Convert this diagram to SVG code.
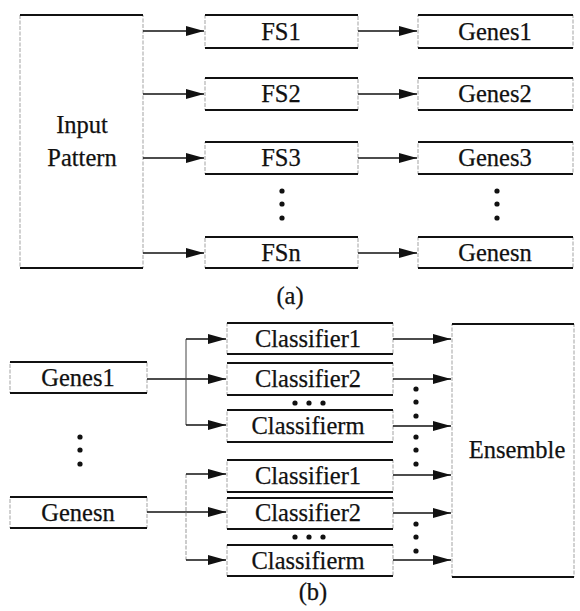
<svg xmlns="http://www.w3.org/2000/svg" width="580" height="611" viewBox="0 0 580 611" font-family="Liberation Serif, DejaVu Serif, serif">
  <style>
    .side { fill: none; stroke: #999; stroke-width: 0.9; stroke-dasharray: 4 1.5; }
    .edge { stroke: #111; stroke-width: 1.8; }
    text { font-family: "Liberation Serif", "DejaVu Serif", serif; font-size: 24.5px; fill: #111; stroke: #111; stroke-width: 0.25; text-anchor: middle; }
    .wire { fill: none; stroke: #111; stroke-width: 1.4; }
    .bus { fill: none; stroke: #444; stroke-width: 1; }
    .faint { fill: none; stroke: #999; stroke-width: 1; stroke-dasharray: 4 1.5; }
    .dot { fill: #111; }
  </style>
  <defs>
    <marker id="arrow" viewBox="0 0 18 10" refX="18" refY="5" markerWidth="18" markerHeight="10" markerUnits="userSpaceOnUse" orient="auto">
      <path d="M0,0 L18,5 L0,10 z" fill="#111"/>
    </marker>
    <!-- three stacked dots -->
    <symbol id="dots-v" overflow="visible">
      <circle cx="0" cy="0" r="2.6" class="dot"/>
      <circle cx="0" cy="13" r="2.6" class="dot"/>
      <circle cx="0" cy="27" r="2.6" class="dot"/>
    </symbol>
  </defs>
  <rect width="580" height="611" fill="#fff"/>

  <!-- (a) feature selection -->
  <g id="input-pattern">
    <rect x="20" y="15" width="123" height="253" class="side"/>
    <line x1="20" y1="15" x2="143" y2="15" class="edge"/>
    <line x1="20" y1="268" x2="143" y2="268" class="edge"/>
    <text x="82" y="133">Input</text>
    <text x="82" y="166">Pattern</text>
  </g>
  <g id="fs1">
    <rect x="205" y="15" width="153" height="33" class="side"/>
    <line x1="205" y1="15" x2="358" y2="15" class="edge"/>
    <line x1="205" y1="48" x2="358" y2="48" class="edge"/>
    <text x="281" y="40">FS1</text>
  </g>
  <g id="fs2">
    <rect x="205" y="78" width="153" height="32" class="side"/>
    <line x1="205" y1="78" x2="358" y2="78" class="edge"/>
    <line x1="205" y1="110" x2="358" y2="110" class="edge"/>
    <text x="281" y="102">FS2</text>
  </g>
  <g id="fs3">
    <rect x="205" y="142" width="153" height="32" class="side"/>
    <line x1="205" y1="142" x2="358" y2="142" class="edge"/>
    <line x1="205" y1="174" x2="358" y2="174" class="edge"/>
    <text x="281" y="166">FS3</text>
  </g>
  <g id="fsn">
    <rect x="205" y="237" width="153" height="31" class="side"/>
    <line x1="205" y1="237" x2="358" y2="237" class="edge"/>
    <line x1="205" y1="268" x2="358" y2="268" class="edge"/>
    <text x="281" y="261">FSn</text>
  </g>
  <g id="genes1-a">
    <rect x="418" y="15" width="155" height="33" class="side"/>
    <line x1="418" y1="15" x2="573" y2="15" class="edge"/>
    <line x1="418" y1="48" x2="573" y2="48" class="edge"/>
    <text x="495" y="40">Genes1</text>
  </g>
  <g id="genes2-a">
    <rect x="418" y="78" width="155" height="32" class="side"/>
    <line x1="418" y1="78" x2="573" y2="78" class="edge"/>
    <line x1="418" y1="110" x2="573" y2="110" class="edge"/>
    <text x="495" y="102">Genes2</text>
  </g>
  <g id="genes3-a">
    <rect x="418" y="142" width="155" height="32" class="side"/>
    <line x1="418" y1="142" x2="573" y2="142" class="edge"/>
    <line x1="418" y1="174" x2="573" y2="174" class="edge"/>
    <text x="495" y="166">Genes3</text>
  </g>
  <g id="genesn-a">
    <rect x="418" y="237" width="155" height="31" class="side"/>
    <line x1="418" y1="237" x2="573" y2="237" class="edge"/>
    <line x1="418" y1="268" x2="573" y2="268" class="edge"/>
    <text x="495" y="261">Genesn</text>
  </g>
  <g id="ellipsis-a">
    <use href="#dots-v" x="282" y="191"/>
    <use href="#dots-v" x="497" y="191"/>
  </g>
  <text x="290" y="304">(a)</text>

  <!-- (b) classifier ensemble -->
  <g id="genes1-b">
    <rect x="10" y="362" width="137" height="31" class="side"/>
    <line x1="10" y1="362" x2="147" y2="362" class="edge"/>
    <line x1="10" y1="393" x2="147" y2="393" class="edge"/>
    <text x="78" y="386">Genes1</text>
  </g>
  <g id="genesn-b">
    <rect x="10" y="497" width="137" height="31" class="side"/>
    <line x1="10" y1="497" x2="147" y2="497" class="edge"/>
    <line x1="10" y1="528" x2="147" y2="528" class="edge"/>
    <text x="78" y="521">Genesn</text>
  </g>
  <use href="#dots-v" x="80" y="437"/>

  <g id="classifier1-1">
    <rect x="227" y="323" width="166" height="31" class="side"/>
    <line x1="227" y1="323" x2="393" y2="323" class="edge"/>
    <line x1="227" y1="354" x2="393" y2="354" class="edge"/>
    <text x="308" y="347">Classifier1</text>
  </g>
  <g id="classifier2-1">
    <rect x="227" y="363" width="166" height="32" class="side"/>
    <line x1="227" y1="363" x2="393" y2="363" class="edge"/>
    <line x1="227" y1="395" x2="393" y2="395" class="edge"/>
    <text x="308" y="387">Classifier2</text>
  </g>
  <g id="classifierm-1">
    <rect x="227" y="410" width="166" height="32" class="side"/>
    <line x1="227" y1="410" x2="393" y2="410" class="edge"/>
    <line x1="227" y1="442" x2="393" y2="442" class="edge"/>
    <text x="308" y="434">Classifierm</text>
  </g>
  <g id="classifier1-n">
    <rect x="227" y="460" width="166" height="32" class="side"/>
    <line x1="227" y1="460" x2="393" y2="460" class="edge"/>
    <line x1="227" y1="492" x2="393" y2="492" class="edge"/>
    <text x="308" y="484">Classifier1</text>
  </g>
  <g id="classifier2-n">
    <rect x="227" y="498" width="166" height="31" class="side"/>
    <line x1="227" y1="498" x2="393" y2="498" class="edge"/>
    <line x1="227" y1="529" x2="393" y2="529" class="edge"/>
    <text x="308" y="521">Classifier2</text>
  </g>
  <g id="classifierm-n">
    <rect x="227" y="545" width="166" height="31" class="side"/>
    <line x1="227" y1="545" x2="393" y2="545" class="edge"/>
    <line x1="227" y1="576" x2="393" y2="576" class="edge"/>
    <text x="308" y="569">Classifierm</text>
  </g>
  <g id="ellipsis-b">
    <circle cx="295" cy="403" r="2.6" class="dot"/>
    <circle cx="309" cy="403" r="2.6" class="dot"/>
    <circle cx="323" cy="403" r="2.6" class="dot"/>
    <circle cx="295" cy="537" r="2.6" class="dot"/>
    <circle cx="309" cy="537" r="2.6" class="dot"/>
    <circle cx="323" cy="537" r="2.6" class="dot"/>
    <use href="#dots-v" x="416" y="389"/>
    <use href="#dots-v" x="416" y="437"/>
    <use href="#dots-v" x="416" y="524"/>
  </g>
  <g id="ensemble">
    <rect x="452" y="324" width="122" height="253" class="side"/>
    <line x1="452" y1="324" x2="574" y2="324" class="edge"/>
    <line x1="452" y1="577" x2="574" y2="577" class="edge"/>
    <text x="517" y="458">Ensemble</text>
  </g>
  <text x="313" y="600">(b)</text>

  <g id="connectors">
    <!-- input pattern to feature subsets -->
    <line x1="143" y1="31" x2="204" y2="31" class="wire" marker-end="url(#arrow)"/>
    <line x1="143" y1="94" x2="204" y2="94" class="wire" marker-end="url(#arrow)"/>
    <line x1="143" y1="158" x2="204" y2="158" class="wire" marker-end="url(#arrow)"/>
    <line x1="143" y1="253" x2="204" y2="253" class="wire" marker-end="url(#arrow)"/>
    <!-- feature subsets to gene sets -->
    <line x1="358" y1="31" x2="417" y2="31" class="wire" marker-end="url(#arrow)"/>
    <line x1="358" y1="94" x2="417" y2="94" class="wire" marker-end="url(#arrow)"/>
    <line x1="358" y1="158" x2="417" y2="158" class="wire" marker-end="url(#arrow)"/>
    <line x1="358" y1="253" x2="417" y2="253" class="wire" marker-end="url(#arrow)"/>
    <!-- Genes1 fan-out -->
    <line x1="147" y1="379" x2="226" y2="379" class="wire" marker-end="url(#arrow)"/>
    <line x1="186" y1="339" x2="186" y2="425" class="bus"/>
    <line x1="186" y1="339" x2="226" y2="339" class="wire" marker-end="url(#arrow)"/>
    <line x1="186" y1="425" x2="226" y2="425" class="wire" marker-end="url(#arrow)"/>
    <!-- Genesn fan-out -->
    <line x1="147" y1="512" x2="226" y2="512" class="wire" marker-end="url(#arrow)"/>
    <line x1="186" y1="474" x2="186" y2="560" class="faint"/>
    <line x1="186" y1="474" x2="226" y2="474" class="wire" marker-end="url(#arrow)"/>
    <line x1="186" y1="560" x2="226" y2="560" class="wire" marker-end="url(#arrow)"/>
    <!-- classifiers to ensemble -->
    <line x1="393" y1="339" x2="451" y2="339" class="wire" marker-end="url(#arrow)"/>
    <line x1="393" y1="379" x2="451" y2="379" class="wire" marker-end="url(#arrow)"/>
    <line x1="393" y1="426" x2="451" y2="426" class="wire" marker-end="url(#arrow)"/>
    <line x1="393" y1="475" x2="451" y2="475" class="wire" marker-end="url(#arrow)"/>
    <line x1="393" y1="513" x2="451" y2="513" class="wire" marker-end="url(#arrow)"/>
    <line x1="393" y1="560" x2="451" y2="560" class="wire" marker-end="url(#arrow)"/>
  </g>
</svg>
